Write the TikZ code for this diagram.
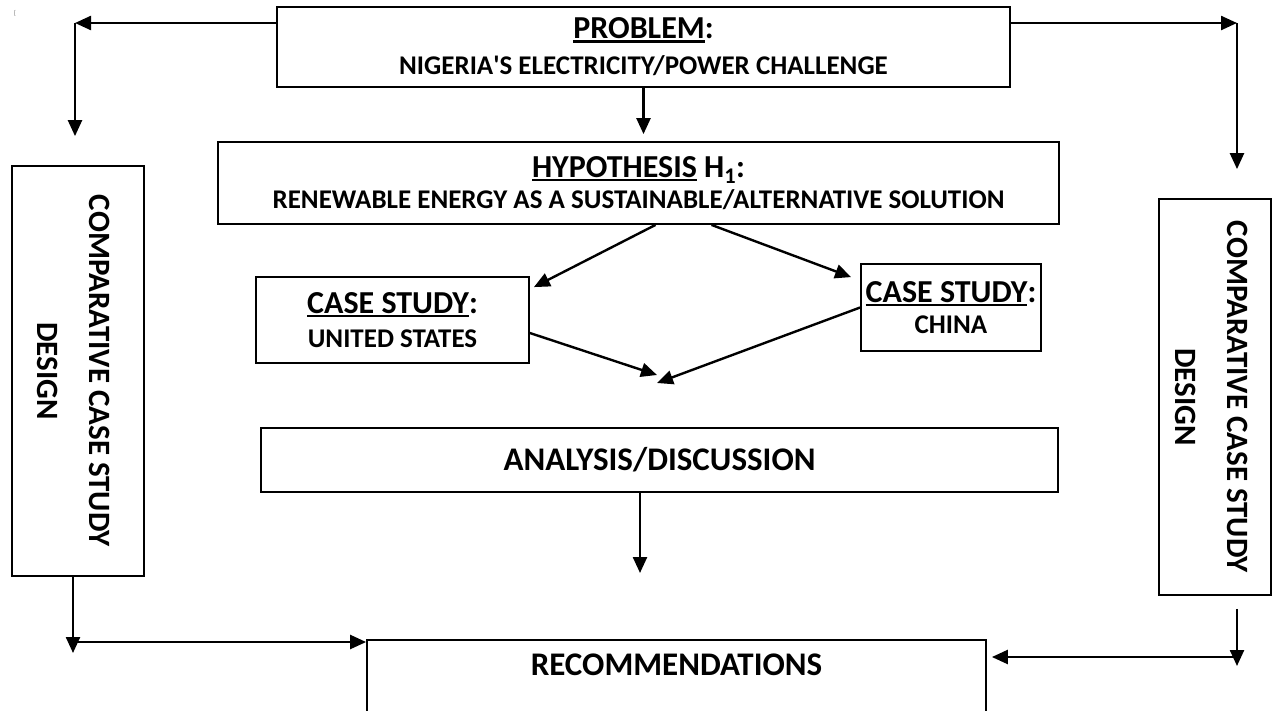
\documentclass[tikz,border=0pt]{standalone}
\usepackage{fontspec}
\setmainfont{Carlito}
\usetikzlibrary{arrows.meta}
\newcommand{\headul}[1]{\setbox0\hbox{#1}\rlap{\rule[-4pt]{\wd0}{2.6pt}}\box0\relax}
\newcommand{\szhead}{\fontsize{32}{30}\selectfont}
\begin{document}
\begin{tikzpicture}[x=1pt,y=-1pt,
  box/.style={draw,line width=1.8pt,inner sep=0pt,align=center},
  arr/.style={line width=2.4pt,-{Triangle[length=16pt,width=14pt]}},
  sidetxt/.style={rotate=-90,align=center,font=\bfseries\fontsize{31}{52}\selectfont}]
  \useasboundingbox (0,0) rectangle (1274,710);
  \node[text=gray,font=\fontsize{7}{7}\selectfont] (mark) at (15,13) {\{};
  \node[box,minimum width=733pt,minimum height=80pt,font=\bfseries\fontsize{27}{36}\selectfont]
    (prob) at (643.5,47) {{\szhead\headul{PROBLEM}:}\\NIGERIA\textquotesingle S ELECTRICITY/POWER CHALLENGE};
  \node[box,minimum width=841pt,minimum height=82pt,font=\bfseries\fontsize{27}{31}\selectfont]
    (hyp) at (638.5,183) {{\szhead\headul{HYPOTHESIS} H\textsubscript{1}:}\\RENEWABLE ENERGY AS A SUSTAINABLE/ALTERNATIVE SOLUTION};
  \node[box,minimum width=273pt,minimum height=86pt,font=\bfseries\fontsize{27}{34}\selectfont]
    (us) at (392.5,320) {{\szhead\headul{CASE STUDY}:}\\UNITED STATES};
  \node[box,minimum width=180pt,minimum height=87pt,font=\bfseries\fontsize{27}{31}\selectfont]
    (cn) at (951,307.5) {{\szhead\headul{CASE STUDY}:}\\CHINA};
  \node[box,minimum width=797pt,minimum height=64pt,font=\bfseries\fontsize{33}{30}\selectfont]
    (ana) at (659.5,460) {ANALYSIS/DISCUSSION};
  \node[box,anchor=north,minimum width=619pt,text height=36pt,text depth=100pt,font=\bfseries\fontsize{33}{30}\selectfont]
    (rec) at (676.5,639) {RECOMMENDATIONS};
  \node[box,minimum width=132pt,minimum height=410pt] (lcc) at (78,371) {};
  \node[sidetxt] (lcctxt) at (74,371) {COMPARATIVE CASE STUDY\\DESIGN};
  \node[box,minimum width=112pt,minimum height=396pt] (rcc) at (1215,397) {};
  \node[sidetxt] (rcctxt) at (1212,397) {COMPARATIVE CASE STUDY\\DESIGN};
  \coordinate (tl) at (75,23);
  \coordinate (tr) at (1237,23);
  \coordinate (mrg) at (657,379);
  \coordinate (dn) at (640,573);
  \coordinate (bl) at (73,653);
  \coordinate (lj) at (73,642);
  \coordinate (br) at (1237,666);
  \coordinate (rj) at (1237,657);
  \draw[arr] (prob.west |- tl) -- (tl);
  \draw[arr,shorten >=29pt] (tl) -- (tl |- lcc.north);
  \draw[arr] (prob.east |- tr) -- (tr);
  \draw[arr,shorten >=29pt] (tr) -- (tr |- rcc.north);
  \draw[arr,shorten >=7pt] (prob.south) -- (prob.south |- hyp.north);
  \draw[arr] ([xshift=17pt]hyp.south) -- ([xshift=4pt,yshift=-11pt]us.north east);
  \draw[arr] ([xshift=73pt]hyp.south) -- ([xshift=-9pt,yshift=-14pt]cn.north west);
  \draw[arr] ([yshift=-13pt]us.east) -- ([yshift=4pt]mrg);
  \draw[arr] (cn.west) -- ([yshift=-4pt]mrg);
  \draw[arr] (ana.south -| dn) -- (dn);
  \draw[arr] (lcc.south -| bl) -- (bl);
  \draw[arr] (lj) -- (lj -| rec.west);
  \draw[arr,shorten <=13pt] (rcc.south -| br) -- (br);
  \draw[arr,shorten >=5pt] (rj) -- (rj -| rec.east);
\end{tikzpicture}
\end{document}
